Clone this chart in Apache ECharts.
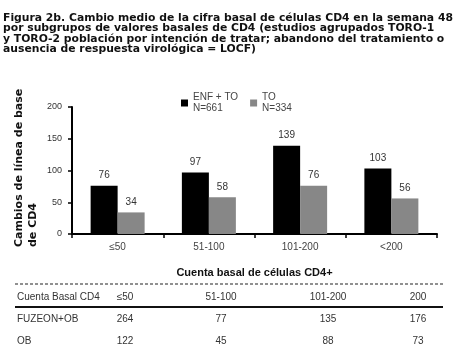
<!DOCTYPE html>
<html><head><meta charset="utf-8">
<script src="https://cdn.jsdelivr.net/npm/echarts@6/dist/echarts.min.js"></script>
<style>html,body{margin:0;padding:0;background:#fff}#c{width:456px;height:355px}</style>
</head><body><div id="c"></div>
<script>
const titleLines = [
  'Figura 2b. Cambio medio de la cifra basal de células CD4 en la semana 48',
  'por subgrupos de valores basales de CD4 (estudios agrupados TORO-1',
  'y TORO-2 población por intención de tratar; abandono del tratamiento o',
  'ausencia de respuesta virológica = LOCF)'
];
const categories = ['≤50', '51-100', '101-200', '<200'];
const seriesNames = ['ENF + TO', 'TO'];
const seriesN = ['N=661', 'N=334'];
const enfValues = [76, 97, 139, 103];
const toValues = [34, 58, 76, 56];
const yTicks = [0, 50, 100, 150, 200];
const yAxisTitle = ['Cambios de línea de base', 'de CD4'];
const xAxisTitle = 'Cuenta basal de células CD4+';
const tableHeader = ['Cuenta Basal CD4', '≤50', '51-100', '101-200', '200'];
const tableRow1 = ['FUZEON+OB', '264', '77', '135', '176'];
const tableRow2 = ['OB', '122', '45', '88', '73'];

const chart = echarts.init(document.getElementById('c'), null, {renderer: 'canvas'});
const FONT = 'Liberation Sans, Arial, Helvetica, sans-serif';
const BFONT = 'DejaVu Sans, Liberation Sans, sans-serif';
const colX = [17, 125, 221, 328, 418];
function rowTexts(row, y) {
  return row.map((t, i) => ({
    type: 'text', x: colX[i], y: y,
    style: {text: t, fill: '#333', font: '10px ' + FONT,
      textAlign: i === 0 ? 'left' : 'center', textVerticalAlign: 'middle'}
  }));
}
const graphics = [
  {type: 'text', x: 3, y: 13, style: {text: titleLines.join('\n'), fill: '#111',
    font: 'bold 10.8px ' + BFONT, lineHeight: 10.3, textAlign: 'left', textVerticalAlign: 'top'}},
  {type: 'text', x: 19, y: 247, rotation: Math.PI / 2, style: {text: yAxisTitle[0], fill: '#111',
    font: 'bold 11px ' + BFONT, textAlign: 'left', textVerticalAlign: 'middle'}},
  {type: 'text', x: 33, y: 247, rotation: Math.PI / 2, style: {text: yAxisTitle[1], fill: '#111',
    font: 'bold 11px ' + BFONT, textAlign: 'left', textVerticalAlign: 'middle'}},
  {type: 'line', shape: {x1: 15, y1: 284, x2: 443, y2: 284}, style: {stroke: '#222', lineWidth: 1.2, lineDash: [3, 2]}},
  {type: 'line', shape: {x1: 15, y1: 307, x2: 443, y2: 307}, style: {stroke: '#111', lineWidth: 2}}
].concat(rowTexts(tableHeader, 297), rowTexts(tableRow1, 319), rowTexts(tableRow2, 341));

const option = {
  animation: false,
  backgroundColor: '#fff',
  grid: {left: 72, top: 107, right: 19, bottom: 121, containLabel: false},
  legend: {
    left: 176, top: 87, itemWidth: 7, itemHeight: 7, itemGap: 12, icon: 'rect',
    data: seriesNames,
    formatter: n => n + '\n' + seriesN[seriesNames.indexOf(n)],
    textStyle: {fontFamily: FONT, fontSize: 10, color: '#444', lineHeight: 11}
  },
  xAxis: {
    type: 'category', data: categories,
    name: xAxisTitle, nameLocation: 'middle', nameGap: 33,
    nameTextStyle: {fontFamily: FONT, fontSize: 11, fontWeight: 'bold', color: '#111'},
    axisLine: {lineStyle: {color: '#000', width: 2}},
    axisTick: {show: true, length: 4, lineStyle: {color: '#000', width: 1.5}},
    axisLabel: {fontFamily: FONT, fontSize: 10, color: '#444', margin: 8}
  },
  yAxis: {
    type: 'value', min: 0, max: 200, interval: 50,
    axisLine: {show: true, lineStyle: {color: '#000', width: 2}},
    axisTick: {show: true, length: 4, lineStyle: {color: '#000', width: 1.5}},
    axisLabel: {fontFamily: FONT, fontSize: 9, color: '#333', margin: 10,
      formatter: v => yTicks.includes(v) ? String(v) : ''},
    splitLine: {show: false}
  },
  series: [
    {name: seriesNames[0], type: 'bar', data: enfValues, barWidth: 27, barGap: '0%',
      itemStyle: {color: '#000'},
      label: {show: true, position: 'top', distance: 5, fontFamily: FONT, fontSize: 10, color: '#333'}},
    {name: seriesNames[1], type: 'bar', data: toValues, barWidth: 27, barGap: '0%',
      itemStyle: {color: '#878787'},
      label: {show: true, position: 'top', distance: 5, fontFamily: FONT, fontSize: 10, color: '#333'}}
  ],
  graphic: graphics
};
chart.setOption(option);
</script></body></html>
